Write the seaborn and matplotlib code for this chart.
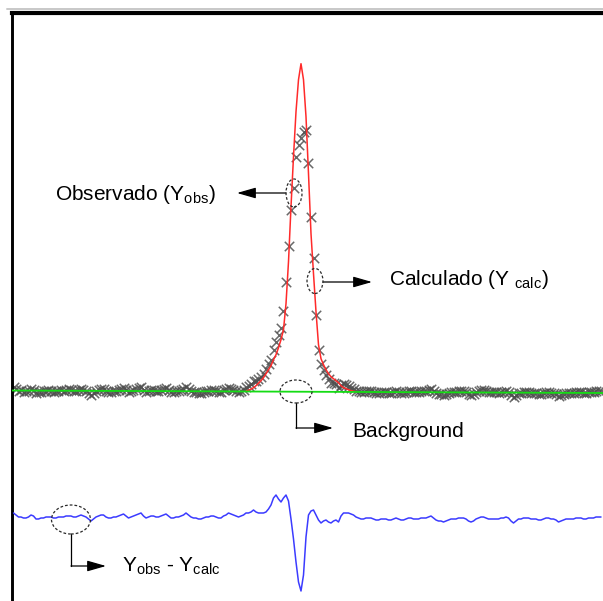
import numpy as np
import pandas as pd
import matplotlib
matplotlib.use("Agg")
import matplotlib.pyplot as plt
from matplotlib.patches import Ellipse
from matplotlib.lines import Line2D
import seaborn as sns

# ---------------- data ----------------
two_theta_start = 20.00
two_theta_step = 0.05

y_obs = [13, 11, 9, 10, 8, 9, 9, 11, 10, 7,
         8, 8, 9, 9, 10, 9, 8, 9, 9, 10,
         9, 10, 11, 10, 9, 9, 10, 11, 10, 9,
         7, 5, 7, 9, 10, 11, 11, 9, 8, 8,
         9, 9, 10, 11, 12, 10, 8, 9, 10, 11,
         12, 13, 10, 8, 9, 10, 10, 9, 9, 10,
         11, 12, 10, 8, 8, 9, 9, 10, 11, 13,
         11, 9, 8, 8, 7, 7, 8, 9, 9, 10,
         10, 9, 8, 8, 10, 11, 12, 11, 10, 9,
         8, 9, 10, 13, 14, 16, 19, 19, 21, 23,
         26, 31, 36, 40, 50, 58, 65, 72, 89, 118,
         154, 190, 212, 243, 255, 262, 268, 270, 237, 183,
         142, 85, 50, 36, 30, 25, 21, 17, 17, 16,
         12, 15, 16, 15, 14, 12, 11, 9, 9, 8,
         8, 9, 9, 9, 8, 7, 7, 8, 8, 8,
         7, 7, 8, 9, 8, 7, 7, 8, 9, 9,
         8, 8, 8, 9, 9, 9, 10, 11, 9, 7,
         6, 6, 5, 6, 7, 8, 8, 8, 9, 9,
         9, 8, 6, 5, 6, 8, 9, 10, 10, 9,
         8, 8, 8, 8, 7, 8, 8, 9, 8, 5,
         3, 5, 7, 7, 8, 8, 8, 7, 7, 7,
         6, 6, 7, 8, 8, 7, 7, 6, 4, 5,
         6, 7, 7, 7, 7, 8, 8, 8, 7, 7,
         8, 8, 8, 9, 9, 9]

residual = [4, 2, 0, 0, -1, -1, 0, 2, 1, -2,
            -2, -1, -1, 0, 0, 0, -1, -1, 0, 0,
            0, 1, 1, 1, 0, 0, 1, 2, 1, 0,
            -2, -4, -2, 0, 1, 2, 2, 0, -1, -1,
            0, 0, 1, 2, 3, 1, -1, 0, 1, 2,
            3, 4, 1, -1, 0, 1, 1, 0, 0, 1,
            2, 3, 1, -1, -1, 0, 0, 1, 2, 4,
            2, 0, -1, -1, -2, -2, -1, 0, 0, 1,
            1, 0, -1, -1, 1, 2, 4, 3, 2, 1,
            0, 1, 2, 4, 4, 5, 7, 5, 4, 4,
            4, 5, 8, 12, 19, 22, 18, 15, 19, 22,
            16, -2, -22, -45, -65, -74, -58, -20, 2, 6,
            7, 2, -3, -6, -4, -3, -5, -6, -4, -3,
            -5, 1, 4, 4, 4, 3, 2, 0, -1, -2,
            -2, -1, -1, -1, -2, -3, -3, -2, -2, -2,
            -3, -3, -2, -1, -2, -3, -3, -2, -1, -1,
            -2, -2, -2, -1, -1, -1, 0, 1, -1, -3,
            -4, -4, -5, -4, -3, -2, -2, -2, -1, -1,
            -1, -2, -4, -5, -4, -2, -1, 0, 0, -1,
            -2, -2, -2, -2, -2, -1, -1, 0, -1, -4,
            -6, -4, -2, -2, -1, -1, -1, -2, -2, -2,
            -3, -3, -2, -1, -1, -2, -2, -3, -5, -4,
            -3, -2, -2, -2, -2, -1, -1, -1, -2, -2,
            -1, -1, -1, 0, 0, 0]

calc_start = 24.65
y_calc = [8.8, 9.8, 10.8, 12.3, 14.3, 16.8, 19.3, 22.3, 26.3, 30.3,
          34.3, 40.3, 45.3, 52.3, 60.3, 70.3, 96.3, 138.3, 193.3, 243.3,
          288.3, 320.3, 336.3, 320.3, 283.3, 226.3, 166.3, 126.3, 88.3, 55.3,
          41.3, 35.3, 30.3, 26.3, 23.3, 21.3, 19.3, 17.3, 14.3, 12.3,
          11.3, 10.3, 9.3, 8.8, 8.3]

bg_two_theta = [19.96, 31.79]
y_bg = [9.5, 7.0]

diff_offset = -117

label_obs = "Observado (Y$_{\\mathrm{obs}}$)"
label_calc = "Calculado (Y $_{\\mathrm{calc}}$)"
label_bg = "Background"
label_diff = "Y$_{\\mathrm{obs}}$ - Y$_{\\mathrm{calc}}$"

# ---------------- frames ----------------
tt = two_theta_start + two_theta_step * np.arange(len(y_obs))
obs_df = pd.DataFrame({"tt": tt, "I": y_obs})
diff_df = pd.DataFrame({"tt": tt[:len(residual)],
                        "I": diff_offset + np.array(residual, dtype=float)})
calc_df = pd.DataFrame({"tt": calc_start + two_theta_step * np.arange(len(y_calc)),
                        "I": y_calc})
bg_df = pd.DataFrame({"tt": bg_two_theta, "I": y_bg})

# ---------------- style ----------------
sns.set_style("white")
plt.rcParams["font.family"] = ["Liberation Sans", "DejaVu Sans"]
plt.rcParams["mathtext.fontset"] = "custom"
plt.rcParams["mathtext.rm"] = "Liberation Sans"
plt.rcParams["mathtext.it"] = "Liberation Sans:italic"
plt.rcParams["mathtext.bf"] = "Liberation Sans:bold"

W, H = 603, 601
fig = plt.figure(figsize=(W / 100, H / 100), dpi=100)
fig.patch.set_facecolor("white")
ax = fig.add_axes([11.5 / W, 0, 1 - 11.5 / W, 1 - 13 / H])

sns.scatterplot(data=obs_df, x="tt", y="I", marker="x", color="#4f4f4f",
                s=46, linewidth=1.1, alpha=0.85, ax=ax, zorder=2, legend=False)
sns.lineplot(data=calc_df, x="tt", y="I", color="#ff2a2a", linewidth=1.1,
             estimator=None, sort=False, ax=ax, zorder=3)
sns.lineplot(data=bg_df, x="tt", y="I", color="#14dc14", linewidth=1.3,
             estimator=None, sort=False, ax=ax, zorder=4)
sns.lineplot(data=diff_df, x="tt", y="I", color="#3b3bff", linewidth=1.1,
             estimator=None, sort=False, ax=ax, zorder=3)

ax.set_xlim(19.96, 31.79)
ax.set_ylim(-201, 387)
ax.set_xticks([])
ax.set_yticks([])
ax.set_xlabel("")
ax.set_ylabel("")
for side in ("right", "bottom"):
    ax.spines[side].set_visible(False)
ax.spines["top"].set_linewidth(3.0)
ax.spines["top"].set_color("black")
ax.spines["left"].set_linewidth(2.1)
ax.spines["left"].set_color("black")

fig.add_artist(Line2D([7 / W, 1], [1 - 9 / H, 1 - 9 / H],
                      color="#c8c8c8", lw=1.4))

# ---------------- annotations ----------------
ell_kw = dict(fill=False, ec="#2a2a2a", lw=0.9, ls=(0, (2.2, 1.6)), zorder=6)
arrow_kw = dict(arrowstyle="-|>,head_length=1.15,head_width=0.33",
                color="black", lw=0.9, shrinkA=0, shrinkB=0, mutation_scale=10)
txt_kw = dict(fontsize=15, ha="left", va="baseline", color="black", zorder=7)

# Observado
ax.add_patch(Ellipse((25.61, 207), 0.32, 28, **ell_kw))
ax.annotate("", xy=(24.47, 207), xytext=(25.45, 207), arrowprops=arrow_kw)
ax.text(20.83, 200, label_obs, **txt_kw)

# Calculado
ax.add_patch(Ellipse((26.03, 119), 0.32, 25, **ell_kw))
ax.annotate("", xy=(27.17, 118), xytext=(26.19, 118), arrowprops=arrow_kw)
ax.text(27.51, 115, label_calc, **txt_kw)

# Background
ax.add_patch(Ellipse((25.65, 8.5), 0.64, 23, **ell_kw))
ax.plot([25.65, 25.65], [-3, -28], color="black", lw=0.9)
ax.annotate("", xy=(26.39, -28), xytext=(25.65, -28), arrowprops=arrow_kw)
ax.text(26.77, -36.7, label_bg, **txt_kw)

# Difference
ax.add_patch(Ellipse((21.15, -119.5), 0.78, 29, **ell_kw))
ax.plot([21.15, 21.15], [-134, -166], color="black", lw=0.9)
ax.annotate("", xy=(21.85, -166), xytext=(21.15, -166), arrowprops=arrow_kw)
ax.text(22.17, -171.7, label_diff, **txt_kw)

fig.savefig("out.png", dpi=100)
